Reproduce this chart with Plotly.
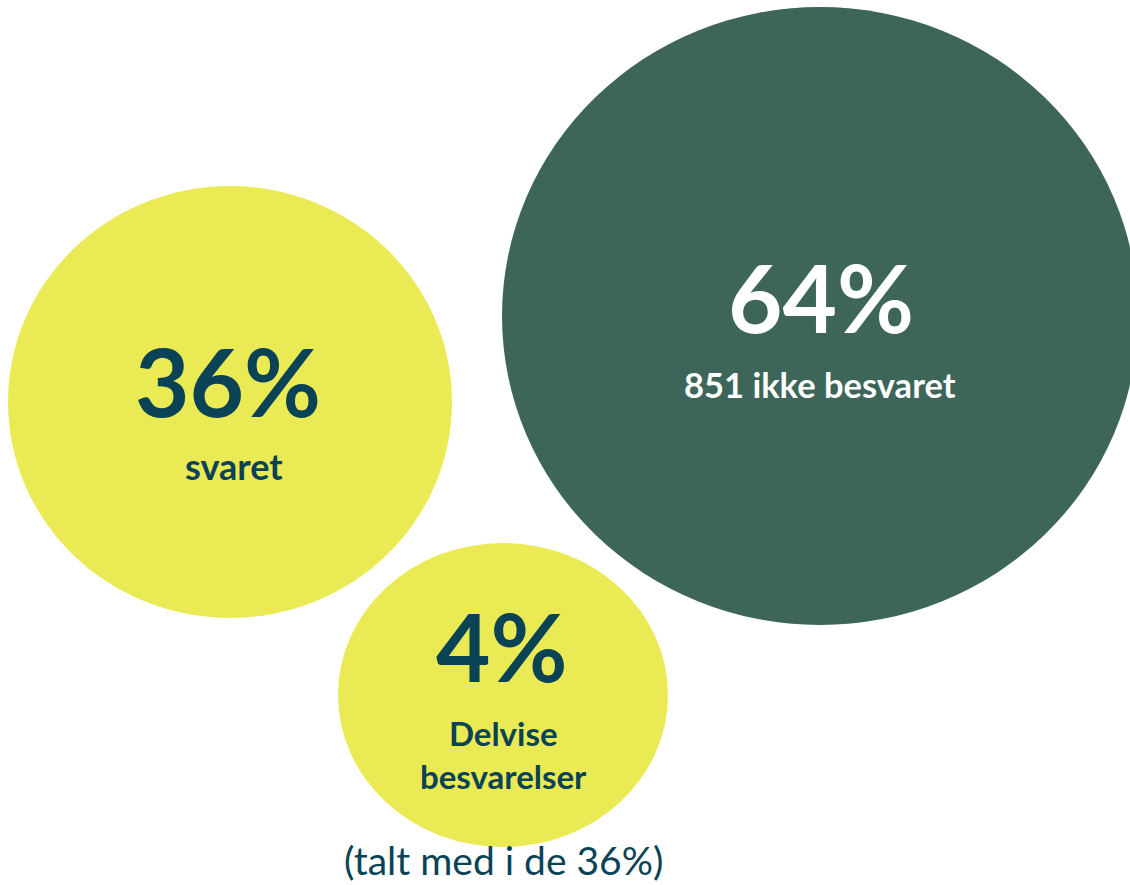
import plotly.graph_objects as go

# ---- data ----
labels = ["svaret", "851 ikke besvaret", "Delvise<br>besvarelser"]
percents = [36, 64, 4]
footnote = "(talt med i de 36%)"

# ---- layout of bubbles (pixel-like axis units) ----
cx = [230, 820, 503]
cy = [402, 316, 695]
rx = [222, 318, 165]
ry = [216, 309, 152]
fills = ["#EAEA55", "#3D655A", "#EAEA55"]
txt_colors = ["#0A4356", "#FFFFFF", "#0A4356"]

W, H = 1130, 885
fig = go.Figure()

shapes = []
for i in [1, 0, 2]:
    shapes.append(dict(type="circle", xref="x", yref="y",
                       x0=cx[i] - rx[i], x1=cx[i] + rx[i],
                       y0=cy[i] - ry[i], y1=cy[i] + ry[i],
                       fillcolor=fills[i], line=dict(width=0), layer="below"))

FONT = "Lato"
big_y = [380, 296, 645]
big_x = [228, 821, 502]
sub_y = [466, 384, 754]
sub_x = [234, 820, 503]
sub_size = [36, 34.5, 33]
ann = []
for i in range(3):
    ann.append(dict(x=big_x[i], y=big_y[i], xref="x", yref="y", showarrow=False,
                    text="<b>%d%%</b>" % percents[i], xanchor="center", yanchor="middle",
                    font=dict(family=FONT, size=94, color=txt_colors[i])))
    ann.append(dict(x=sub_x[i], y=sub_y[i], xref="x", yref="y", showarrow=False,
                    text="<b>%s</b>" % labels[i], xanchor="center", yanchor="middle",
                    font=dict(family=FONT, size=sub_size[i], color=txt_colors[i])))
ann.append(dict(x=503, y=860, xref="x", yref="y", showarrow=False,
                text=footnote, xanchor="center", yanchor="middle",
                font=dict(family=FONT, size=39, color="#0A4356")))

fig.add_trace(go.Scatter(x=[0, W], y=[0, H], mode="markers",
                         marker=dict(opacity=0), hoverinfo="skip", showlegend=False))

fig.update_layout(width=W, height=H, margin=dict(l=0, r=0, t=0, b=0),
                  paper_bgcolor="white", plot_bgcolor="white",
                  shapes=shapes, annotations=ann, showlegend=False,
                  xaxis=dict(range=[0, W], visible=False, fixedrange=True),
                  yaxis=dict(range=[H, 0], visible=False, fixedrange=True))

fig.write_html("out.html", config={"displayModeBar": False},
               post_script="document.body.style.margin='0';document.body.style.overflow='hidden';")
